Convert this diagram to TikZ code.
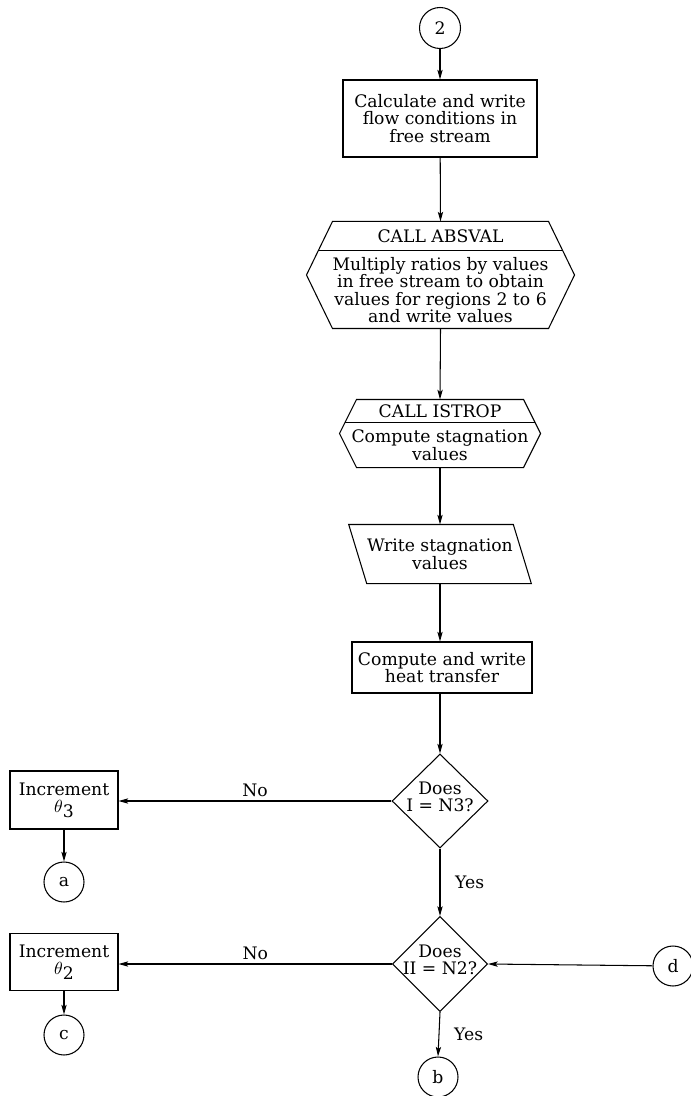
\documentclass[tikz,border=0pt]{standalone}
\usepackage{fontspec}
\setmainfont{DejaVu Serif}
\usepackage{tikz}
\usetikzlibrary{calc, shapes, arrows.meta}

\begin{document}
\begin{tikzpicture}[line width=0.6pt,
    every node/.style={font=\fontsize{9.8}{10}\selectfont, align=center},
    conn/.style={draw, circle, minimum size=0.8cm, inner sep=0pt},
    procbox/.style={draw, rectangle, inner sep=0pt},
    frame/.style={rectangle, inner sep=0pt},
    decide/.style={draw, diamond, inner sep=0pt, aspect=1},
    flow/.style={-{Stealth[length=5.5pt, width=3pt, inset=1.2pt]}}]
          \useasboundingbox (0,0) rectangle (13.8,-21.92);
          % main column
          \node[conn, minimum size=0.82cm] (c2) at (8.80,-0.56) {2};
          \node[procbox, minimum width=3.88cm, minimum height=1.54cm] (calc) at (8.80,-2.37)
            {Calculate and write\\flow conditions in\\free stream};
          % CALL ABSVAL
          \node[frame, minimum width=4.30cm, minimum height=2.12cm] (absval) at (8.81,-5.50) {};
          \coordinate (absval-l) at ($(absval.west)+(-0.52,0)$);
          \coordinate (absval-r) at ($(absval.east)+(0.52,0)$);
          \draw (absval.north west) -- (absval.north east) -- (absval-r) -- (absval.south east)
            -- (absval.south west) -- (absval-l) -- cycle;
          \draw ($(absval.north west)!0.55!(absval-l)$) -- ($(absval.north east)!0.55!(absval-r)$);
          \node (absvalcall) at (8.81,-4.73) {CALL ABSVAL};
          \node (absvaltext) at (8.81,-5.80)
            {Multiply ratios by values\\in free stream to obtain\\values for regions 2 to 6\\and write values};
          % CALL ISTROP
          \node[frame, minimum width=3.32cm, minimum height=1.34cm] (istrop) at (8.80,-8.67) {};
          \coordinate (istrop-l) at ($(istrop.west)+(-0.34,0)$);
          \coordinate (istrop-r) at ($(istrop.east)+(0.34,0)$);
          \draw (istrop.north west) -- (istrop.north east) -- (istrop-r) -- (istrop.south east)
            -- (istrop.south west) -- (istrop-l) -- cycle;
          \draw ($(istrop.north west)!0.69!(istrop-l)$) -- ($(istrop.north east)!0.69!(istrop-r)$);
          \node (istropcall) at (8.80,-8.23) {CALL ISTROP};
          \node (istroptext) at (8.80,-8.90) {Compute stagnation\\values};
          % write stagnation values
          \node[frame, minimum width=2.68cm, minimum height=1.16cm] (wsv) at (8.80,-11.08)
            {Write stagnation\\values};
          \draw ($(wsv.north west)+(-0.36,0)$) -- (wsv.north east) -- ($(wsv.south east)+(0.36,0)$)
            -- (wsv.south west) -- cycle;
          \node[procbox, minimum width=3.60cm, minimum height=1.02cm] (heat) at (8.84,-13.35)
            {Compute and write\\heat transfer};
          % decisions
          \node[decide, minimum width=1.92cm, minimum height=1.88cm] (d1) at (8.80,-16.02) {};
          \node (d1text) at (8.80,-15.94) {Does\\I = N3?};
          \node[decide, minimum width=1.90cm, minimum height=1.90cm] (d2) at (8.80,-19.28) {};
          \node (d2text) at (8.80,-19.20) {Does\\II = N2?};
          \node[procbox, minimum width=2.16cm, minimum height=1.16cm] (inc3) at (1.28,-16.00)
            {Increment\\$\theta$\raisebox{-2.5pt}{3}};
          \node[procbox, minimum width=2.16cm, minimum height=1.14cm] (inc2) at (1.28,-19.24)
            {Increment\\$\theta$\raisebox{-2.5pt}{2}};
          \node[conn] (a) at (1.28,-17.64) {a};
          \node[conn] (c) at (1.28,-20.70) {c};
          \node[conn] (d) at (13.46,-19.32) {d};
          \node[conn] (b) at (8.76,-21.54) {b};
          % connectors
          \draw[flow] (c2) -- (calc);
          \draw[flow] (calc) -- (absval.north);
          \draw[flow] (absval.south) -- (istrop.north);
          \draw[flow] (istrop.south) -- (wsv.north);
          \draw[flow] (wsv.south) -- (wsv.south |- heat.north);
          \draw[flow] (heat.south -| d1.north) -- (d1.north);
          \draw[flow] (d1.west) -- node[above, inner sep=2pt] {No} (d1.west -| inc3.east);
          \draw[flow] (inc3) -- (a);
          \draw[flow] (d1.south) -- node[right=5pt] {Yes} (d2.north);
          \draw[flow] (d2.west) -- node[above, inner sep=2pt] {No} (d2.west -| inc2.east);
          \draw[flow] (inc2) -- (c);
          \draw[flow] (d) -- (d2.east);
          \draw[flow] (d2.south) -- node[right=5pt] {Yes} (b.north);
        \end{tikzpicture}
\end{document}
